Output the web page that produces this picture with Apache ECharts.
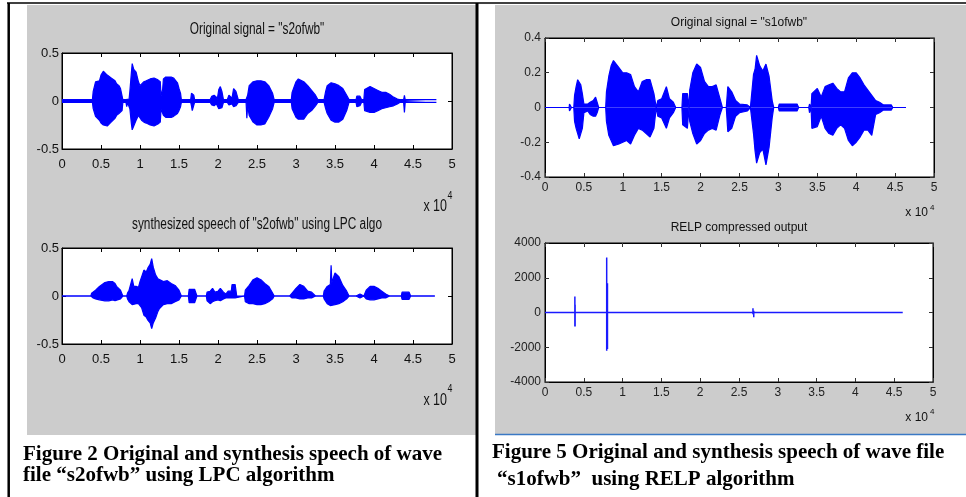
<!DOCTYPE html>
<html>
<head>
<meta charset="utf-8">
<script src="https://cdn.jsdelivr.net/npm/echarts@6.0.0/dist/echarts.min.js"></script>
<style>
  html, body { margin: 0; padding: 0; background: #fff; }
  #chart { width: 966px; height: 497px; }
</style>
</head>
<body>
<div id="chart"></div>
<script>
const BLUE = '#0000ff'
const ARIAL = '"Liberation Sans", Arial, sans-serif'

const xTickLabels = ['0', '0.5', '1', '1.5', '2', '2.5', '3', '3.5', '4', '4.5', '5']
const yLabelsHalf = ['-0.5', '0', '0.5']
const yLabelsS1 = ['-0.4', '-0.2', '0', '0.2', '0.4']
const yLabelsRelp = ['-4000', '-2000', '0', '2000', '4000']

// Figure 2 top: original "s2ofwb", envelope (sample index, upper, lower)
const s2X = [0, 3900, 4000, 4300, 4500, 4800, 5000, 5300, 5500, 5800, 6000, 6300, 6500, 6800, 7000, 7300, 7500, 7700, 7800,
  8200, 8300, 8400, 8600, 8700, 8900, 9000, 9200, 9500, 9800, 10000, 10200, 10500, 10800, 11000, 11300, 11500, 11800, 12000,
  12300, 12600, 12700, 12800, 12900, 13000, 13300, 13500, 14000, 14300, 14500, 14800, 15000, 15200, 15300,
  16500, 16600, 16700, 16900, 17000, 19000, 19200, 19500, 19800, 19900, 20100, 20300, 20500, 20700,
  21200, 21400, 21600, 21800, 22000, 22300, 22600, 23600, 23700, 23800, 24000, 24500, 25000, 25500, 26000, 26500, 27000, 27200,
  29400, 29500, 30000, 30300, 30500, 31000, 31500, 32000, 32500, 32800, 33600, 33800, 34000, 34500, 35000, 35500, 36000, 36500, 36800,
  37700, 37800, 38200, 38400, 38700, 38800, 39000, 39500, 40000, 40500, 41000, 41500, 42000, 42500, 43000, 43300,
  43800, 43900, 44000, 48000]
const s2Hi = [0.015, 0.015, 0.10, 0.20, 0.22, 0.21, 0.27, 0.31, 0.30, 0.27, 0.25, 0.24, 0.22, 0.21, 0.18, 0.16, 0.13, 0.12, 0.015,
  0.015, 0.03, 0.015, 0.02, 0.10, 0.30, 0.39, 0.33, 0.30, 0.20, 0.16, 0.18, 0.20, 0.21, 0.22, 0.23, 0.22, 0.24, 0.23,
  0.22, 0.20, 0.05, 0.04, 0.12, 0.23, 0.25, 0.25, 0.25, 0.24, 0.22, 0.19, 0.13, 0.08, 0.015,
  0.015, 0.08, 0.09, 0.06, 0.015, 0.015, 0.05, 0.06, 0.04, 0.015, 0.12, 0.15, 0.10, 0.015,
  0.015, 0.06, 0.05, 0.03, 0.13, 0.10, 0.015, 0.015, 0.02, 0.06, 0.16, 0.20, 0.21, 0.21, 0.20, 0.16, 0.08, 0.015,
  0.015, 0.09, 0.20, 0.23, 0.22, 0.20, 0.16, 0.11, 0.06, 0.015, 0.015, 0.10, 0.16, 0.19, 0.18, 0.16, 0.13, 0.06, 0.015,
  0.015, 0.05, 0.05, 0.015, 0.015, 0.12, 0.14, 0.15, 0.13, 0.11, 0.09, 0.09, 0.07, 0.04, 0.02, 0.015,
  0.015, 0.06, 0.015, 0.015]
const s2Lo = [-0.015, -0.015, -0.08, -0.16, -0.17, -0.20, -0.23, -0.25, -0.26, -0.26, -0.25, -0.22, -0.20, -0.18, -0.15, -0.13, -0.12, -0.10, -0.015,
  -0.015, -0.06, -0.015, -0.02, -0.08, -0.24, -0.30, -0.26, -0.20, -0.15, -0.13, -0.20, -0.22, -0.23, -0.24, -0.25, -0.25, -0.26, -0.25,
  -0.24, -0.22, -0.08, -0.06, -0.10, -0.15, -0.17, -0.17, -0.17, -0.16, -0.15, -0.13, -0.10, -0.06, -0.015,
  -0.015, -0.05, -0.10, -0.08, -0.015, -0.015, -0.04, -0.05, -0.03, -0.015, -0.08, -0.10, -0.07, -0.015,
  -0.015, -0.04, -0.03, -0.03, -0.06, -0.05, -0.015, -0.015, -0.18, -0.05, -0.15, -0.22, -0.25, -0.25, -0.24, -0.17, -0.08, -0.015,
  -0.015, -0.08, -0.17, -0.19, -0.20, -0.19, -0.13, -0.10, -0.05, -0.015, -0.015, -0.08, -0.13, -0.20, -0.22, -0.22, -0.19, -0.10, -0.015,
  -0.015, -0.06, -0.05, -0.015, -0.015, -0.10, -0.12, -0.12, -0.12, -0.10, -0.08, -0.07, -0.06, -0.05, -0.03, -0.015,
  -0.015, -0.12, -0.015, -0.015]

// Figure 2 bottom: LPC synthesized speech
const lpcX = [0, 3700, 3800, 4000, 4300, 4500, 4800, 5000, 5500, 6000, 6500, 6800, 7000, 7500, 7700, 7800,
  8300, 8400, 8600, 8800, 9000, 9200, 9500, 9800, 10000, 10200, 10500, 10800, 11000, 11300, 11500, 11700, 12000, 12300, 12500,
  13000, 13500, 14000, 14500, 15000, 15300, 16200, 16300, 16500, 17000, 17300, 18500, 18600, 19000, 19300, 19600, 20000, 20300, 20700, 21000,
  21200, 21300, 21700, 21800, 22200, 22400, 23400, 23500, 24000, 24500, 25000, 25500, 26000, 26500, 27000, 27200,
  29200, 29500, 30000, 30500, 31000, 31500, 32000, 32500, 33500, 33600, 34000, 34400, 34500, 34600, 35000, 35500, 36000, 36500, 36800,
  37700, 37800, 38200, 38300, 38700, 39000, 39500, 40000, 40500, 41000, 41500, 42000, 43500, 43600, 44500, 44700, 47800]
const lpcHi = [0, 0, 0.03, 0.03, 0.06, 0.08, 0.10, 0.12, 0.14, 0.15, 0.15, 0.13, 0.10, 0.06, 0.04, 0,
  0, 0.03, 0.06, 0.08, 0.18, 0.10, 0.10, 0.09, 0.15, 0.13, 0.27, 0.25, 0.29, 0.33, 0.39, 0.30, 0.22, 0.18, 0.17,
  0.15, 0.16, 0.13, 0.11, 0.06, 0, 0, 0.07, 0.09, 0.07, 0, 0, 0.04, 0.05, 0.08, 0.04, 0.05, 0.08, 0.04, 0.02,
  0, 0.05, 0.05, 0.12, 0.12, 0, 0, 0.06, 0.11, 0.17, 0.19, 0.17, 0.13, 0.10, 0.03, 0,
  0, 0.03, 0.08, 0.12, 0.10, 0.05, 0.04, 0, 0, 0.05, 0.10, 0.12, 0.32, 0.14, 0.24, 0.20, 0.11, 0.05, 0,
  0, 0.02, 0.02, 0, 0, 0.06, 0.10, 0.10, 0.08, 0.05, 0.02, 0, 0, 0.04, 0.04, 0, 0]
const lpcLo = [0, 0, -0.02, -0.02, -0.03, -0.03, -0.04, -0.04, -0.05, -0.05, -0.04, -0.05, -0.04, -0.03, -0.02, 0,
  0, -0.03, -0.06, -0.07, -0.09, -0.08, -0.08, -0.08, -0.09, -0.12, -0.20, -0.22, -0.25, -0.28, -0.34, -0.28, -0.23, -0.16, -0.13,
  -0.09, -0.08, -0.08, -0.06, -0.04, 0, 0, -0.07, -0.08, -0.07, 0, 0, -0.05, -0.08, -0.06, -0.05, -0.04, -0.05, -0.03, -0.02,
  0, -0.02, -0.02, -0.02, -0.02, 0, 0, -0.06, -0.08, -0.08, -0.09, -0.09, -0.08, -0.06, -0.03, 0,
  0, -0.02, -0.02, -0.03, -0.03, -0.02, -0.02, 0, 0, -0.03, -0.08, -0.10, -0.11, -0.09, -0.09, -0.08, -0.06, -0.03, 0,
  0, -0.02, -0.02, 0, 0, -0.03, -0.04, -0.04, -0.03, -0.02, -0.02, 0, 0, -0.035, -0.035, 0, 0]

// Figure 5 top: original "s1ofwb"
const s1X = [0, 3100, 3150, 3350, 3400, 3700, 3800, 4000, 4200, 4400, 4600, 4800, 5000, 5500, 5800, 6200, 6500, 6700, 6900,
  7800, 7900, 8200, 8500, 8800, 9000, 9500, 10000, 10500, 11000, 11500, 12000, 12500, 13000, 13500, 14000, 14300,
  14500, 15000, 15600, 16000, 16500, 16800, 17600, 17700, 18300, 18500, 18600, 19000, 19500, 20000, 20500, 21000, 21500, 22000, 22500, 22800,
  23300, 23500, 24000, 24500, 25000, 26000, 26400, 26600, 26800, 27000, 27200, 27600, 28000, 28400, 28800, 29200, 29400,
  30000, 30100, 32400, 32600, 33900, 34000, 34200, 34300, 34500, 35000, 35500, 36000, 36500, 37000, 37500, 38000, 38500,
  39000, 39500, 40000, 40500, 41000, 41500, 42000, 42500, 43000, 43500, 44500, 44700, 46400]
const s1Hi = [0, 0, 0.02, 0.02, 0, 0, 0.07, 0.12, 0.16, 0.15, 0.13, 0.08, 0.02, 0.02, 0.03, 0.04, 0.06, 0.03, 0,
  0, 0.09, 0.18, 0.24, 0.27, 0.26, 0.23, 0.20, 0.20, 0.19, 0.12, 0.09, 0.15, 0.16, 0.16, 0.08, 0,
  0.04, 0.05, 0.12, 0.05, 0.03, 0, 0, 0.08, 0.08, 0, 0.10, 0.20, 0.25, 0.23, 0.15, 0.12, 0.12, 0.13, 0.05, 0,
  0, 0.12, 0.09, 0.04, 0.02, 0.015, 0, 0, 0.19, 0.22, 0.30, 0.24, 0.21, 0.25, 0.18, 0.04, 0,
  0, 0.02, 0.02, 0, 0, 0.02, 0, 0.08, 0.08, 0.11, 0.06, 0.12, 0.13, 0.14, 0.11, 0.09, 0.09,
  0.17, 0.20, 0.20, 0.17, 0.13, 0.10, 0.07, 0.04, 0.03, 0.015, 0.015, 0, 0]
const s1Lo = [0, 0, -0.02, -0.03, 0, 0, -0.08, -0.12, -0.15, -0.18, -0.18, -0.12, -0.03, -0.02, -0.04, -0.05, -0.05, -0.03, 0,
  0, -0.08, -0.16, -0.19, -0.22, -0.22, -0.21, -0.20, -0.19, -0.21, -0.16, -0.12, -0.13, -0.15, -0.17, -0.12, 0,
  -0.05, -0.06, -0.12, -0.06, -0.03, 0, 0, -0.10, -0.12, 0, -0.08, -0.15, -0.21, -0.19, -0.15, -0.13, -0.12, -0.13, -0.04, 0,
  0, -0.14, -0.12, -0.05, -0.03, -0.02, 0, 0, -0.15, -0.25, -0.32, -0.26, -0.24, -0.33, -0.23, -0.06, 0,
  0, -0.02, -0.02, 0, 0, -0.03, 0, -0.12, -0.12, -0.11, -0.05, -0.12, -0.15, -0.16, -0.12, -0.10, -0.12,
  -0.19, -0.22, -0.20, -0.17, -0.13, -0.13, -0.16, -0.04, -0.03, -0.015, -0.015, 0, 0]

// Figure 5 bottom: RELP compressed output, a flat line with a few spikes
const relpX = [3850, 3880, 7950, 8050, 14600, 26800, 26900]
const relpHi = [920, 440, 3170, 1690, 60, 250, 100]
const relpLo = [-800, -800, -2200, -2100, 0, -100, -270]
const relpEnd = 46100

const grids = [
  { left: 62, top: 53, width: 390, height: 96 },
  { left: 62, top: 248, width: 390, height: 96 },
  { left: 545, top: 38, width: 389, height: 139 },
  { left: 545, top: 243, width: 388, height: 139 }
]
const yRanges = [[-0.5, 0.5, 0.5, yLabelsHalf], [-0.5, 0.5, 0.5, yLabelsHalf], [-0.4, 0.4, 0.2, yLabelsS1], [-4000, 4000, 2000, yLabelsRelp]]

const xAxes = []
const yAxes = []
grids.forEach((g, i) => {
  const left = i < 2
  const font = left ? { fontFamily: ARIAL, fontSize: 13, color: '#111' } : { fontFamily: ARIAL, fontSize: 12, color: '#222' }
  const tick = { show: true, inside: true, length: 4, lineStyle: { color: left ? '#000' : '#333' } }
  const line = { show: true, onZero: false, lineStyle: { color: '#000', width: 1 } }
  const xb = { gridIndex: i, type: 'value', min: 0, max: 50000, interval: 5000, axisLine: line, axisTick: tick, splitLine: { show: false } }
  xAxes.push(Object.assign({}, xb, { position: 'bottom', axisLabel: Object.assign({ margin: left ? 9 : 5, formatter: (v, k) => xTickLabels[k] }, font) }))
  xAxes.push(Object.assign({}, xb, { position: 'top', axisLabel: { show: false } }))
  const r = yRanges[i]
  const yb = { gridIndex: i, type: 'value', min: r[0], max: r[1], interval: r[2], axisLine: line, axisTick: tick, splitLine: { show: false } }
  yAxes.push(Object.assign({}, yb, { position: 'left', axisLabel: Object.assign({ margin: left ? 3 : 4, formatter: (v, k) => r[3][k] }, font) }))
  yAxes.push(Object.assign({}, yb, { position: 'right', axisLabel: { show: false } }))
})

function envelope (g, xs, hi, lo) {
  const base = {
    type: 'line', xAxisIndex: 2 * g, yAxisIndex: 2 * g, symbol: 'none', silent: true,
    lineStyle: { color: BLUE, width: 1.2 }, areaStyle: { color: BLUE, opacity: 1 }
  }
  return [
    Object.assign({}, base, { data: xs.map((x, k) => [x, hi[k]]) }),
    Object.assign({}, base, { data: xs.map((x, k) => [x, lo[k]]) })
  ]
}

const relpData = [[0, 0]]
relpX.forEach((x, k) => {
  relpData.push([x, 0], [x, relpHi[k]], [x, relpLo[k]], [x, 0])
})
relpData.push([relpEnd, 0])

const series = [].concat(
  envelope(0, s2X, s2Hi, s2Lo),
  envelope(1, lpcX, lpcHi, lpcLo),
  envelope(2, s1X, s1Hi, s1Lo),
  [{ type: 'line', xAxisIndex: 6, yAxisIndex: 6, symbol: 'none', silent: true, data: relpData, lineStyle: { color: '#1a1aff', width: 1.5 } }]
)

// matlab text in figure 2 is squeezed horizontally, hence the scaleX
function txt (x, y, text, size, align, sx) {
  return {
    type: 'text', x: x, y: y, scaleX: sx || 1, silent: true,
    style: { text: text, font: size + 'px ' + ARIAL, fill: '#111', align: align || 'center', verticalAlign: 'middle' }
  }
}
function caption (x, y, text) {
  return { type: 'text', x: x, y: y, silent: true, style: { text: text, font: 'bold 21px "Liberation Serif", "Times New Roman", serif', fill: '#000', verticalAlign: 'middle' } }
}

const graphic = [
  // panels and frame
  { type: 'rect', z: -10, silent: true, shape: { x: 27, y: 5, width: 449, height: 430 }, style: { fill: '#cccccc' } },
  { type: 'rect', z: -10, silent: true, shape: { x: 495, y: 5, width: 471, height: 429 }, style: { fill: '#cccccc' } },
  { type: 'line', z: -9, silent: true, shape: { x1: 495, y1: 434.5, x2: 966, y2: 434.5 }, style: { stroke: '#3a78c4', lineWidth: 1.5 } },
  { type: 'line', z: -9, silent: true, shape: { x1: 7, y1: 3, x2: 966, y2: 3 }, style: { stroke: '#000', lineWidth: 1.5 } },
  { type: 'line', z: -9, silent: true, shape: { x1: 8.7, y1: 3, x2: 8.7, y2: 497 }, style: { stroke: '#000', lineWidth: 2.5 } },
  { type: 'line', z: -9, silent: true, shape: { x1: 477, y1: 3, x2: 477, y2: 497 }, style: { stroke: '#000', lineWidth: 3 } },
  // plot titles
  txt(257, 30, 'Original signal = "s2ofwb"', 16, 'center', 0.74),
  txt(257, 225, 'synthesized speech of "s2ofwb" using LPC algo', 16, 'center', 0.74),
  txt(739, 23, 'Original signal = "s1ofwb"', 12),
  txt(739, 228, 'RELP compressed output', 12),
  // axis multipliers
  txt(447, 207, 'x 10', 16, 'right', 0.78), txt(447.5, 196, '4', 11, 'left', 0.8),
  txt(447, 401, 'x 10', 16, 'right', 0.78), txt(447.5, 389, '4', 11, 'left', 0.8),
  txt(928, 213, 'x 10', 12, 'right'), txt(930, 208, '4', 8, 'left'),
  txt(928, 418, 'x 10', 12, 'right'), txt(930, 412, '4', 8, 'left'),
  // captions
  caption(23, 455, 'Figure 2 Original and synthesis speech of wave'),
  caption(23, 476, 'file \u201cs2ofwb\u201d using LPC algorithm'),
  caption(492, 453, 'Figure 5 Original and synthesis speech of wave file'),
  caption(497, 480, '\u201cs1ofwb\u201d  using RELP algorithm')
]

const chart = echarts.init(document.getElementById('chart'))
chart.setOption({
  animation: false,
  backgroundColor: '#fff',
  grid: grids.map(g => Object.assign({ show: true, backgroundColor: '#fff', borderColor: '#000', borderWidth: 1 }, g)),
  xAxis: xAxes,
  yAxis: yAxes,
  series: series,
  graphic: graphic
})
</script>
</body>
</html>
